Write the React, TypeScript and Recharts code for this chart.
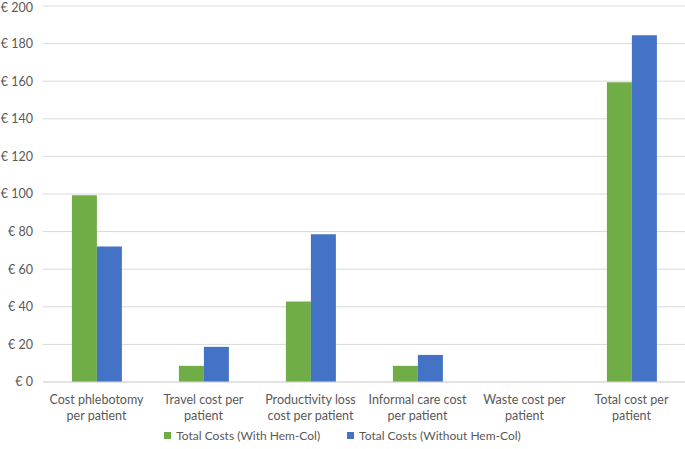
import { BarChart, Bar, XAxis, YAxis, CartesianGrid, Legend } from 'recharts';

const categories = [
  'Cost phlebotomy\nper patient',
  'Travel cost per\npatient',
  'Productivity loss\ncost per patient',
  'Informal care cost\nper patient',
  'Waste cost per\npatient',
  'Total cost per\npatient',
];
const withHemCol = [99.4, 8.6, 42.8, 8.6, 0, 159.4];
const withoutHemCol = [72.1, 18.7, 78.6, 14.4, 0, 184.5];
const yTicks = [0, 20, 40, 60, 80, 100, 120, 140, 160, 180, 200];

const data = categories.map((name, i) => ({
  name,
  withHem: withHemCol[i],
  withoutHem: withoutHemCol[i],
}));

const FONT = 'Lato, "Open Sans", sans-serif';
const TEXT = '#595959';

function CategoryTick({ x, y, payload }: any) {
  const lines = String(payload.value).split('\n');
  return (
    <text x={x} y={y} textAnchor="middle" fill={TEXT} fontSize={12.5} fontFamily={FONT}>
      {lines.map((l, i) => (
        <tspan key={i} x={x} dy={i === 0 ? 14 : 15.5}>
          {l}
        </tspan>
      ))}
    </text>
  );
}

function LegendContent({ payload }: any) {
  return (
    <div style={{ display: 'flex', justifyContent: 'center', gap: 27, fontFamily: FONT, fontSize: 12, color: TEXT }}>
      {(payload || []).map((p: any) => (
        <div key={p.value} style={{ display: 'flex', alignItems: 'center' }}>
          <span style={{ display: 'inline-block', width: 7, height: 7, background: p.color, marginRight: 5 }} />
          <span>{p.value}</span>
        </div>
      ))}
    </div>
  );
}

export default function App() {
  return (
    <div style={{ position: 'absolute', left: 0, top: 0, background: '#fff' }}>
      <BarChart
        width={685}
        height={449}
        data={data}
        margin={{ top: 6, right: 0, left: 0, bottom: 6 }}
        barCategoryGap="27%"
        barGap={0}
      >
        <CartesianGrid vertical={false} stroke="#d9d9d9" />
        <XAxis
          dataKey="name"
          tick={<CategoryTick />}
          tickLine={false}
          axisLine={{ stroke: '#d9d9d9' }}
          interval={0}
          height={46}
        />
        <YAxis
          domain={[0, 200]}
          ticks={yTicks}
          tickFormatter={(v: number) => `€ ${v}`}
          tickLine={false}
          axisLine={false}
          width={43}
          tick={{ fill: TEXT, fontSize: 12.5, fontFamily: FONT }}
          tickMargin={4}
        />
        <Legend content={<LegendContent />} />
        <Bar dataKey="withHem" name="Total Costs (With Hem-Col)" fill="#70ad47" isAnimationActive={false} />
        <Bar dataKey="withoutHem" name="Total Costs (Without Hem-Col)" fill="#4472c4" isAnimationActive={false} />
      </BarChart>
    </div>
  );
}
